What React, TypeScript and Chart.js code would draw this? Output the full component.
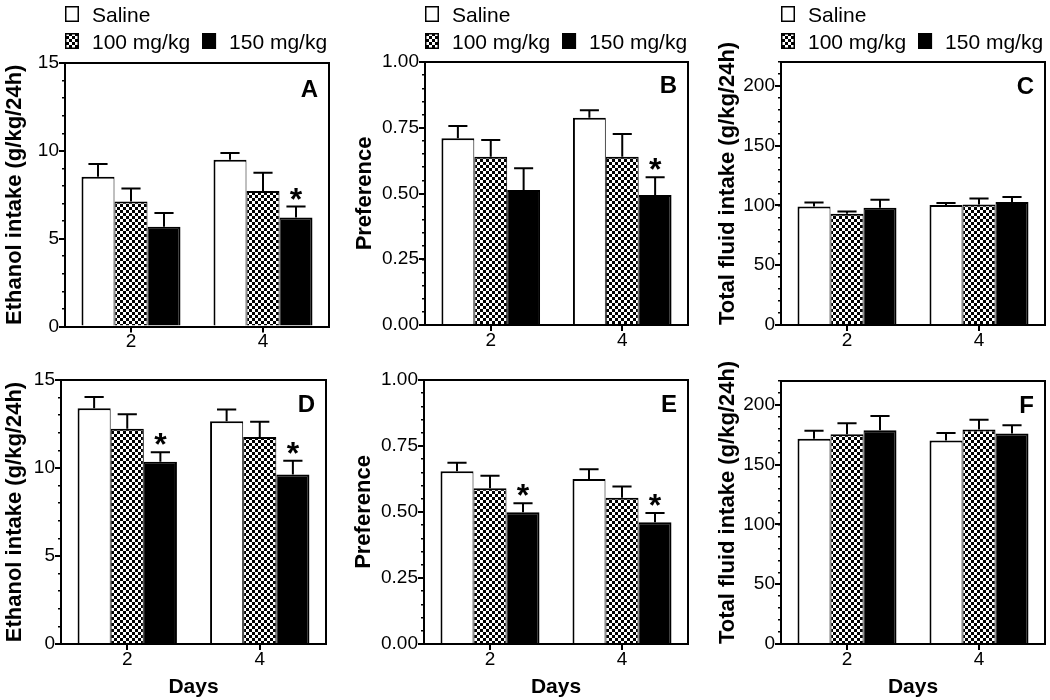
import React, { useEffect, useRef } from 'react';
import { Chart, registerables } from 'chart.js';

Chart.register(...registerables);

const FONT = '"Liberation Sans", Arial, Helvetica, sans-serif';

// ---------- data ----------
const categories = ['2', '4'];
const groupLabels = ['Saline', '100 mg/kg', '150 mg/kg'];

// Panel A: ethanol intake, first experiment
const aSaline = [8.52, 9.49];
const a100 = [7.11, 7.72];
const a150 = [5.68, 6.2];
const aSalineSem = [0.73, 0.38];
const a100Sem = [0.75, 1.03];
const a150Sem = [0.78, 0.63];
const a150Star = [false, true];

// Panel B: preference, first experiment
const bSaline = [0.71, 0.788];
const b100 = [0.64, 0.64];
const b150 = [0.513, 0.494];
const bSalineSem = [0.047, 0.029];
const b100Sem = [0.063, 0.086];
const b150Sem = [0.083, 0.068];
const b150Star = [false, true];

// Panel C: total fluid intake, first experiment
const cSaline = [99.2, 100.3];
const c100 = [93.0, 100.8];
const c150 = [98.0, 102.8];
const cSalineSem = [3.3, 1.7];
const c100Sem = [2.0, 5.0];
const c150Sem = [6.7, 4.2];
const c150Star = [false, false];

// Panel D: ethanol intake, second experiment
const dSaline = [13.39, 12.65];
const d100 = [12.23, 11.76];
const d150 = [10.35, 9.63];
const dSalineSem = [0.64, 0.68];
const d100Sem = [0.82, 0.87];
const d150Sem = [0.55, 0.78];
const d150Star = [true, true];

// Panel E: preference, second experiment
const eSaline = [0.654, 0.625];
const e100 = [0.59, 0.554];
const e150 = [0.499, 0.461];
const eSalineSem = [0.033, 0.037];
const e100Sem = [0.047, 0.043];
const e150Sem = [0.034, 0.035];
const e150Star = [true, true];

// Panel F: total fluid intake, second experiment
const fSaline = [171.6, 170.2];
const f100 = [175.5, 179.4];
const f150 = [178.9, 176.1];
const fSalineSem = [6.7, 6.2];
const f100Sem = [9.2, 8.1];
const f150Sem = [11.9, 6.9];
const f150Star = [false, false];

const noStar = [false, false];

// ---------- layout ----------
type Geom = {
  left: number; top: number; width: number; height: number;
  yWidth: number; padRight: number; padTop: number; xHeight: number;
  titlePad: number; titleAlign: 'start' | 'center'; letterDy: number;
};

type PanelProps = {
  geom: Geom;
  values: number[][];
  sems: number[][];
  stars: boolean[][];
  yMax: number; majorStep: number; minorStep: number; decimals: number;
  yTitle: string; letter: string; legend: boolean; xTitle: string | null;
};

function makeChecker(): CanvasPattern | string {
  const c = document.createElement('canvas');
  c.width = 6; c.height = 6;
  const g = c.getContext('2d');
  if (!g) return '#808080';
  g.fillStyle = '#fff'; g.fillRect(0, 0, 6, 6);
  g.fillStyle = '#000'; g.fillRect(0, 0, 3, 3); g.fillRect(3, 3, 3, 3);
  return g.createPattern(c, 'repeat') || '#808080';
}

function Panel(p: PanelProps) {
  const ref = useRef<HTMLCanvasElement | null>(null);
  useEffect(() => {
    const canvas = ref.current;
    if (!canvas) return;
    const checker = makeChecker();
    const fills: (string | CanvasPattern)[] = ['#ffffff', checker, '#000000'];
    const borders = [
      { top: 2, left: 2, right: 1, bottom: 0 },
      { top: 2, left: 1, right: 1, bottom: 0 },
      { top: 2, left: 1, right: 2, bottom: 0 },
    ];
    const g = p.geom;

    const decor = {
      id: 'decor',
      afterDatasetsDraw(chart: any) {
        const ctx: CanvasRenderingContext2D = chart.ctx;
        const ca = chart.chartArea;
        const ys = chart.scales.y;
        ctx.save();
        // error bars and significance marks
        chart.data.datasets.forEach((ds: any, di: number) => {
          const meta = chart.getDatasetMeta(di);
          meta.data.forEach((bar: any, i: number) => {
            const v = ds.data[i];
            const s = p.sems[di][i];
            const yV = ys.getPixelForValue(v);
            const yT = ys.getPixelForValue(v + s);
            const cap = bar.width * 0.58;
            ctx.strokeStyle = '#000';
            ctx.lineWidth = 2;
            ctx.beginPath();
            ctx.moveTo(bar.x, yV);
            ctx.lineTo(bar.x, yT);
            ctx.moveTo(bar.x - cap / 2, yT);
            ctx.lineTo(bar.x + cap / 2, yT);
            ctx.stroke();
            if (p.stars[di][i]) {
              ctx.fillStyle = '#000';
              ctx.font = `bold 32px ${FONT}`;
              ctx.textAlign = 'center';
              ctx.textBaseline = 'alphabetic';
              ctx.fillText('*', bar.x, yT + 3);
            }
          });
        });
        // frame (top + right)
        ctx.strokeStyle = '#000';
        ctx.lineWidth = 2;
        ctx.beginPath();
        ctx.moveTo(ca.left, ca.top);
        ctx.lineTo(ca.right, ca.top);
        ctx.lineTo(ca.right, ca.bottom);
        ctx.stroke();
        // panel letter
        ctx.fillStyle = '#000';
        ctx.font = `bold 24px ${FONT}`;
        ctx.textAlign = 'right';
        ctx.textBaseline = 'alphabetic';
        ctx.fillText(p.letter, ca.right - 11, ca.top + g.letterDy + 17);
        // legend
        if (p.legend) {
          ctx.font = `21px ${FONT}`;
          ctx.textAlign = 'left';
          ctx.textBaseline = 'alphabetic';
          const drawItem = (di: number, x: number, yTop: number) => {
            const ds = chart.data.datasets[di];
            ctx.fillStyle = ds.backgroundColor;
            ctx.fillRect(x, yTop, 14, 16);
            ctx.lineWidth = 1.5;
            ctx.strokeStyle = '#000';
            ctx.strokeRect(x + 0.75, yTop + 0.75, 12.5, 14.5);
            ctx.fillStyle = '#000';
            ctx.fillText(ds.label, x + 27, yTop + 16);
            return x + 27 + ctx.measureText(ds.label).width;
          };
          drawItem(0, ca.left, 6);
          const end = drawItem(1, ca.left, 33);
          drawItem(2, end + 12, 33);
        }
        ctx.restore();
      },
    };

    const fmt = (v: any) => Number(v).toFixed(p.decimals);

    const chart = new Chart(canvas, {
      type: 'bar',
      data: {
        labels: categories,
        datasets: p.values.map((vals, i) => ({
          label: groupLabels[i],
          data: vals,
          backgroundColor: fills[i] as any,
          borderColor: '#000',
          borderWidth: borders[i] as any,
          borderSkipped: 'start' as any,
          barPercentage: 1,
          categoryPercentage: 0.75,
        })),
      },
      options: {
        animation: false,
        responsive: false,
        maintainAspectRatio: false,
        events: [],
        layout: { padding: { top: g.padTop, right: g.padRight, left: 0, bottom: 0 } },
        plugins: { legend: { display: false }, tooltip: { enabled: false }, title: { display: false } },
        scales: {
          x: {
            type: 'category',
            offset: true,
            grid: { offset: false, drawOnChartArea: false, drawTicks: true, tickLength: 6, color: '#000', lineWidth: 2 },
            border: { display: true, color: '#000', width: 2 },
            ticks: { color: '#000', font: { family: FONT, size: 19, lineHeight: 1.0 }, padding: 0, maxRotation: 0 },
            title: p.xTitle
              ? { display: true, text: p.xTitle, color: '#000', font: { family: FONT, size: 21, weight: 'bold', lineHeight: 1.2 }, padding: { top: 0, bottom: 0 } }
              : { display: false },
            afterFit: (s: any) => { s.height = g.xHeight; },
          },
          y: {
            type: 'linear',
            position: 'left',
            weight: 1,
            min: 0,
            max: p.yMax,
            grid: { drawOnChartArea: false, drawTicks: true, tickLength: 6, color: '#000', lineWidth: 2 },
            border: { display: true, color: '#000', width: 2 },
            ticks: { stepSize: p.majorStep, includeBounds: false, color: '#000', font: { family: FONT, size: 19 }, padding: 0, callback: fmt },
            title: {
              display: true, text: p.yTitle, color: '#000', align: g.titleAlign,
              font: { family: FONT, size: 22, weight: 'bold', lineHeight: 1.2 },
              padding: { top: g.titlePad, bottom: 0 },
            },
            afterFit: (s: any) => { s.width = g.yWidth; },
          } as any,
          yMinor: {
            type: 'linear',
            position: 'left',
            weight: 0,
            min: 0,
            max: p.yMax,
            grid: { drawOnChartArea: false, drawTicks: true, tickLength: 3, color: '#000', lineWidth: 1.5 },
            border: { display: false },
            ticks: { display: false, stepSize: p.minorStep, includeBounds: false },
            afterFit: (s: any) => { s.width = 0; },
          } as any,
        },
      },
      plugins: [decor],
    } as any);
    return () => chart.destroy();
  }, []);
  const g = p.geom;
  return (
    <canvas
      ref={ref}
      width={g.width}
      height={g.height}
      style={{ position: 'absolute', left: g.left, top: g.top, width: g.width, height: g.height, display: 'block' }}
    />
  );
}

const geomA: Geom = { left: 0, top: 0, width: 345, height: 350, yWidth: 65, padRight: 16, padTop: 63, xHeight: 23.5, titlePad: 2, titleAlign: 'center', letterDy: 17 };
const geomB: Geom = { left: 345, top: 0, width: 350, height: 350, yWidth: 80, padRight: 7, padTop: 62, xHeight: 25, titlePad: 7, titleAlign: 'center', letterDy: 14 };
const geomC: Geom = { left: 695, top: 0, width: 355, height: 350, yWidth: 86, padRight: 5, padTop: 62, xHeight: 25, titlePad: 20, titleAlign: 'start', letterDy: 15 };
const geomD: Geom = { left: 0, top: 350, width: 345, height: 350, yWidth: 61, padRight: 19, padTop: 30, xHeight: 56, titlePad: 2, titleAlign: 'center', letterDy: 15 };
const geomE: Geom = { left: 345, top: 350, width: 350, height: 350, yWidth: 79, padRight: 7, padTop: 30, xHeight: 56, titlePad: 6, titleAlign: 'center', letterDy: 15 };
const geomF: Geom = { left: 695, top: 350, width: 355, height: 350, yWidth: 86, padRight: 5, padTop: 31, xHeight: 56, titlePad: 20, titleAlign: 'start', letterDy: 15 };

export default function App() {
  return (
    <div style={{ position: 'absolute', left: 0, top: 0, width: 1050, height: 700, background: '#fff', overflow: 'hidden' }}>
      <Panel geom={geomA} values={[aSaline, a100, a150]} sems={[aSalineSem, a100Sem, a150Sem]} stars={[noStar, noStar, a150Star]}
        yMax={15} majorStep={5} minorStep={1} decimals={0} yTitle="Ethanol intake (g/kg/24h)" letter="A" legend xTitle={null} />
      <Panel geom={geomB} values={[bSaline, b100, b150]} sems={[bSalineSem, b100Sem, b150Sem]} stars={[noStar, noStar, b150Star]}
        yMax={1} majorStep={0.25} minorStep={0.05} decimals={2} yTitle="Preference" letter="B" legend xTitle={null} />
      <Panel geom={geomC} values={[cSaline, c100, c150]} sems={[cSalineSem, c100Sem, c150Sem]} stars={[noStar, noStar, c150Star]}
        yMax={220} majorStep={50} minorStep={10} decimals={0} yTitle="Total fluid intake (g/kg/24h)" letter="C" legend xTitle={null} />
      <Panel geom={geomD} values={[dSaline, d100, d150]} sems={[dSalineSem, d100Sem, d150Sem]} stars={[noStar, noStar, d150Star]}
        yMax={15} majorStep={5} minorStep={1} decimals={0} yTitle="Ethanol intake (g/kg/24h)" letter="D" legend={false} xTitle="Days" />
      <Panel geom={geomE} values={[eSaline, e100, e150]} sems={[eSalineSem, e100Sem, e150Sem]} stars={[noStar, noStar, e150Star]}
        yMax={1} majorStep={0.25} minorStep={0.05} decimals={2} yTitle="Preference" letter="E" legend={false} xTitle="Days" />
      <Panel geom={geomF} values={[fSaline, f100, f150]} sems={[fSalineSem, f100Sem, f150Sem]} stars={[noStar, noStar, f150Star]}
        yMax={220} majorStep={50} minorStep={10} decimals={0} yTitle="Total fluid intake (g/kg/24h)" letter="F" legend={false} xTitle="Days" />
    </div>
  );
}
